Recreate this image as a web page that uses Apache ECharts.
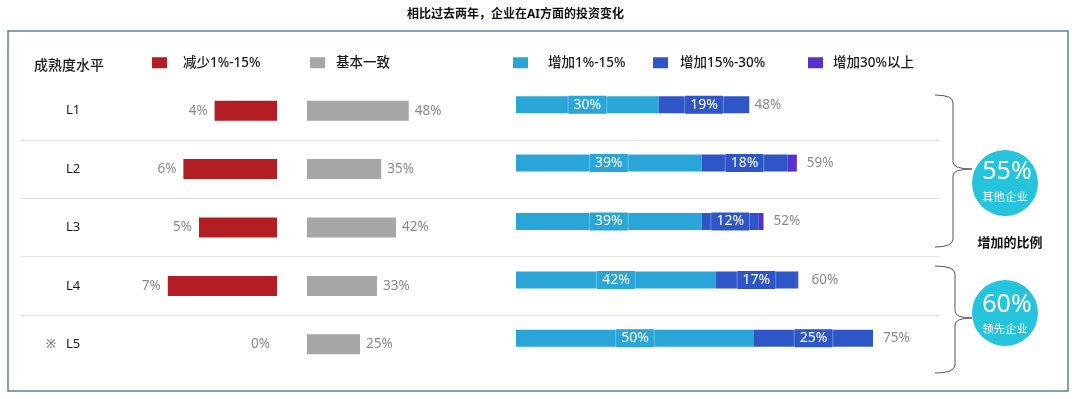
<!DOCTYPE html>
<html>
<head>
<meta charset="utf-8">
<script src="https://cdn.jsdelivr.net/npm/echarts@6/dist/echarts.min.js"></script>
<style>
html, body { margin: 0; padding: 0; background: #fff; }
#main { width: 1080px; height: 399px; }
</style>
</head>
<body>
<div id="main"></div>
<script>
// 数据
var levels = ['L1', 'L2', 'L3', 'L4', 'L5'];
var decrease = [4, 6, 5, 7, 0];          // 减少1%-15%
var same = [48, 35, 42, 33, 25];         // 基本一致
var inc1 = [30, 39, 39, 42, 50];         // 增加1%-15%
var inc2 = [19, 18, 12, 17, 25];         // 增加15%-30%
var inc3 = [0, 2, 1, 0.3, 0];            // 增加30%以上
var incTotal = [48, 59, 52, 60, 75];     // 增加合计
var groupShare = [55, 60];
var groupNames = ['其他企业', '领先企业'];

var FONT = '"Noto Sans", "Noto Sans CJK SC", sans-serif';
var colors = {
  dec: '#b31e25', same: '#a6a6a6', inc1: '#2aa5d7', inc2: '#2e56c6', inc3: '#5a30cc', circle: '#26c3dc'
};

var myChart = echarts.init(document.getElementById('main'));

function oneLegend(name, left, pad) {
  return {
    data: [name], left: left, top: 56, padding: 0,
    icon: 'rect', itemWidth: 15, itemHeight: 11,
    selectedMode: false,
    textStyle: { fontSize: 13.5, color: '#1a1a1a', fontWeight: 500, padding: [0, 0, 0, pad], fontFamily: FONT }
  };
}

// 柱内标签
function innerLabel(bg) {
  return {
    show: true, position: 'inside', color: '#fff', fontSize: 14,
    backgroundColor: bg, borderColor: 'rgba(255,255,255,0.3)', borderWidth: 1,
    padding: [2, 5], formatter: '{c}%'
  };
}

// 右侧大括号
function brace(xEnd, xV, xTip, yTop, yMid, yBot) {
  var st = { fill: 'none', stroke: '#555', lineWidth: 1 };
  return {
    type: 'group',
    children: [
      { type: 'bezierCurve', shape: { x1: xEnd, y1: yTop, x2: xV, y2: yTop + 8, cpx1: xV, cpy1: yTop }, style: st },
      { type: 'line', shape: { x1: xV, y1: yTop + 8, x2: xV, y2: yMid - 7 }, style: st },
      { type: 'bezierCurve', shape: { x1: xV, y1: yMid - 7, x2: xTip, y2: yMid, cpx1: xV, cpy1: yMid }, style: st },
      { type: 'bezierCurve', shape: { x1: xTip, y1: yMid, x2: xV, y2: yMid + 7, cpx1: xV, cpy1: yMid }, style: st },
      { type: 'line', shape: { x1: xV, y1: yMid + 7, x2: xV, y2: yBot - 8 }, style: st },
      { type: 'bezierCurve', shape: { x1: xV, y1: yBot - 8, x2: xEnd, y2: yBot, cpx1: xV, cpy1: yBot }, style: st }
    ]
  };
}

var rowTop = 81.5, rowH = 292;

myChart.setOption({
  textStyle: { fontFamily: FONT },
  animation: false,
  title: {
    text: '相比过去两年，企业在AI方面的投资变化',
    left: 402, top: 4,
    textStyle: { fontSize: 12, fontWeight: 'bold', color: '#111' }
  },
  legend: [
    oneLegend('减少1%-15%', 152, 11),
    oneLegend('基本一致', 310, 6),
    oneLegend('增加1%-15%', 513, 15),
    oneLegend('增加15%-30%', 653, 7),
    oneLegend('增加30%以上', 808, 5)
  ],
  grid: [
    { left: 20, width: 920, top: rowTop, height: rowH },      // 分隔线+行标签
    { left: 121, width: 156, top: rowTop, height: rowH },     // 减少
    { left: 307, width: 212, top: rowTop, height: rowH },     // 基本一致
    { left: 516, width: 476, top: 75.5, height: rowH }        // 增加
  ],
  xAxis: [
    { type: 'value', gridIndex: 0, show: false },
    { type: 'value', gridIndex: 1, show: false, min: 0, max: 10, inverse: true },
    { type: 'value', gridIndex: 2, show: false, min: 0, max: 100 },
    { type: 'value', gridIndex: 3, show: false, min: 0, max: 100 }
  ],
  yAxis: [
    {
      type: 'category', gridIndex: 0, data: levels, inverse: true,
      axisLine: { show: false }, axisTick: { show: false },
      splitLine: { show: true, showMinLine: false, showMaxLine: false, lineStyle: { color: '#e2e2e2', width: 1 } },
      axisLabel: {
        inside: true, margin: 26, color: '#1a1a1a', fontSize: 13,
        formatter: function (v) { return (v === 'L5' ? '{m|※}' : '{m| }') + v; },
        rich: { m: { width: 20, fontSize: 12, color: '#555' } }
      }
    },
    { type: 'category', gridIndex: 1, data: levels, inverse: true, show: false },
    { type: 'category', gridIndex: 2, data: levels, inverse: true, show: false },
    { type: 'category', gridIndex: 3, data: levels, inverse: true, show: false }
  ],
  series: [
    {
      name: '减少1%-15%', type: 'bar', xAxisIndex: 1, yAxisIndex: 1, data: decrease,
      barWidth: 20, itemStyle: { color: colors.dec },
      label: { show: true, position: 'left', distance: 7, color: '#8a8a8a', fontSize: 13.5, formatter: '{c}%' }
    },
    {
      name: '基本一致', type: 'bar', xAxisIndex: 2, yAxisIndex: 2, data: same,
      barWidth: 20, itemStyle: { color: colors.same },
      label: { show: true, position: 'right', distance: 6, color: '#8a8a8a', fontSize: 13.5, formatter: '{c}%' }
    },
    {
      name: '增加1%-15%', type: 'bar', xAxisIndex: 3, yAxisIndex: 3, stack: 'inc', data: inc1,
      barWidth: 17, itemStyle: { color: colors.inc1 }, label: innerLabel(colors.inc1), z: 3
    },
    {
      name: '增加15%-30%', type: 'bar', xAxisIndex: 3, yAxisIndex: 3, stack: 'inc', data: inc2,
      barWidth: 17, itemStyle: { color: colors.inc2 }, label: innerLabel(colors.inc2), z: 3
    },
    {
      name: '增加30%以上', type: 'bar', xAxisIndex: 3, yAxisIndex: 3, stack: 'inc', data: inc3,
      barWidth: 17, itemStyle: { color: colors.inc3 }, z: 3
    },
    {
      name: '合计', type: 'bar', xAxisIndex: 3, yAxisIndex: 3, data: incTotal,
      barWidth: 17, barGap: '-100%', silent: true, z: 1,
      itemStyle: { color: 'rgba(0,0,0,0)' },
      label: { show: true, position: 'right', distance: 10, color: '#8a8a8a', fontSize: 13.5, formatter: '{c}%' }
    }
  ],
  graphic: [
    { type: 'rect', shape: { x: 8, y: 31, width: 1060, height: 360 }, style: { fill: 'none', stroke: '#5b7ea6', lineWidth: 1.5 }, z: 10 },
    { type: 'text', style: { text: '成熟度水平', x: 34, y: 66, verticalAlign: 'middle', fill: '#1a1a1a', fontSize: 14, fontWeight: 500, fontFamily: FONT } },
    brace(935, 953, 972, 95, 169, 247),
    brace(935, 955, 972, 266, 318, 373),
    { type: 'circle', shape: { cx: 1005, cy: 183, r: 33 }, style: { fill: colors.circle } },
    { type: 'text', style: { text: groupShare[0] + '%', x: 1007, y: 172, align: 'center', verticalAlign: 'middle', fill: '#fff', fontSize: 25, fontFamily: FONT } },
    { type: 'text', style: { text: groupNames[0], x: 1005, y: 198, align: 'center', verticalAlign: 'middle', fill: '#fff', fontSize: 11.5, fontFamily: FONT } },
    { type: 'text', style: { text: '增加的比例', x: 1010, y: 243, align: 'center', verticalAlign: 'middle', fill: '#111', fontSize: 13, fontWeight: 'bold', fontFamily: FONT } },
    { type: 'circle', shape: { cx: 1005, cy: 313, r: 33 }, style: { fill: colors.circle } },
    { type: 'text', style: { text: groupShare[1] + '%', x: 1007, y: 305, align: 'center', verticalAlign: 'middle', fill: '#fff', fontSize: 25, fontFamily: FONT } },
    { type: 'text', style: { text: groupNames[1], x: 1005, y: 330, align: 'center', verticalAlign: 'middle', fill: '#fff', fontSize: 11.5, fontFamily: FONT } }
  ]
});
</script>
</body>
</html>
